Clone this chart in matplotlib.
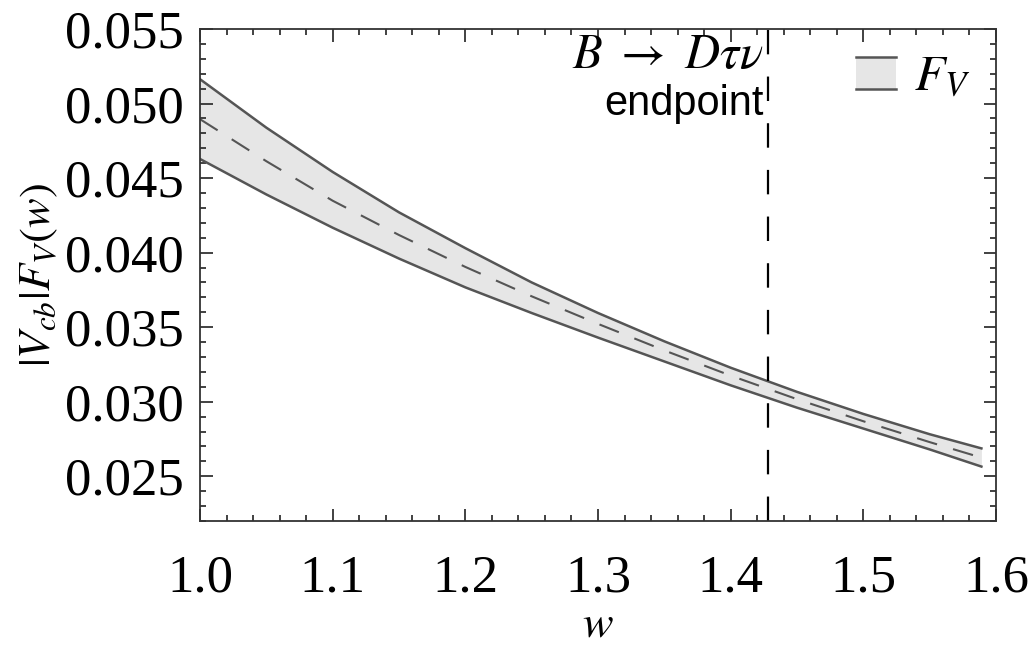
"""|V_cb| F_V(w) band with the B -> D tau nu endpoint marked."""

import matplotlib
matplotlib.use("Agg")
import matplotlib.pyplot as plt
from matplotlib.legend_handler import HandlerBase
from matplotlib.lines import Line2D
from matplotlib.patches import Rectangle
from matplotlib.ticker import MultipleLocator

plt.rcParams["font.family"] = ["Liberation Serif", "DejaVu Serif"]
plt.rcParams["mathtext.fontset"] = "stix"

# values
w = [1.00, 1.05, 1.10, 1.15, 1.20, 1.25, 1.30, 1.35, 1.40, 1.45, 1.50, 1.55, 1.589]
fv_upper = [0.05163, 0.04838, 0.04541, 0.04270, 0.04030, 0.03800, 0.03595,
            0.03405, 0.03228, 0.03066, 0.02918, 0.02782, 0.02687]
fv_central = [0.04895, 0.04613, 0.04348, 0.04118, 0.03904, 0.03707, 0.03522,
              0.03344, 0.03175, 0.03017, 0.02869, 0.02729, 0.02625]
fv_lower = [0.04628, 0.04390, 0.04167, 0.03960, 0.03767, 0.03595, 0.03430,
            0.03270, 0.03110, 0.02960, 0.02820, 0.02680, 0.02565]
w_endpoint = 1.428

EDGE = "#555555"
FILL = "#e6e6e6"


class BandHandler(HandlerBase):
    # filled box with lines on top and bottom, like the band itself
    def create_artists(self, legend, orig_handle, xdescent, ydescent,
                       width, height, fontsize, trans):
        x0, y0 = -xdescent, -ydescent
        rect = Rectangle((x0, y0), width, height, facecolor=FILL,
                         edgecolor="none", transform=trans)
        top = Line2D([x0, x0 + width], [y0 + height] * 2, color=EDGE,
                     lw=1.8, transform=trans)
        bot = Line2D([x0, x0 + width], [y0, y0], color=EDGE, lw=1.8,
                     transform=trans)
        return [rect, top, bot]


fig = plt.figure(figsize=(10.30, 6.51), dpi=100)
ax = fig.add_axes([0.1942, 0.1997, 0.7728, 0.7558])

band = ax.fill_between(w, fv_lower, fv_upper, color=FILL, lw=0, label="$F_V$")
ax.plot(w, fv_upper, color=EDGE, lw=1.8)
ax.plot(w, fv_lower, color=EDGE, lw=1.8)
ax.plot(w, fv_central, color=EDGE, lw=1.5, linestyle=(0, (10, 8)))
ax.axvline(w_endpoint, color="black", lw=1.6, linestyle=(0, (11, 10)))

ax.text(w_endpoint - 0.003, 0.0532, r"$B\ \rightarrow\ D\tau\nu$",
        fontsize=35, ha="right", va="center")
ax.text(w_endpoint - 0.003, 0.0500, "endpoint", fontsize=30,
        family=["Liberation Sans", "DejaVu Sans"], ha="right", va="center")

ax.legend(handles=[band], labels=["$F_V$"], handler_map={band: BandHandler()},
          loc="upper right", frameon=False, fontsize=36, handlelength=0.8,
          handleheight=0.62, handletextpad=0.35, borderaxespad=0.3,
          bbox_to_anchor=(1.012, 1.018))

ax.set_xlim(1.0, 1.6)
ax.set_ylim(0.022, 0.055)
ax.xaxis.set_major_locator(MultipleLocator(0.1))
ax.xaxis.set_minor_locator(MultipleLocator(0.02))
ax.yaxis.set_major_locator(MultipleLocator(0.005))
ax.yaxis.set_minor_locator(MultipleLocator(0.001))
ax.xaxis.set_major_formatter(plt.FuncFormatter(lambda v, p: f"{v:.1f}"))
ax.yaxis.set_major_formatter(plt.FuncFormatter(lambda v, p: f"{v:.3f}"))

ax.tick_params(which="both", direction="in", top=True, right=True,
               color="#333333", width=1.3)
ax.tick_params(which="major", length=9, labelsize=38, pad=12)
ax.tick_params(which="minor", length=4.5)
ax.tick_params(axis="x", which="major", pad=24)
for sp in ax.spines.values():
    sp.set_color("#333333")
    sp.set_linewidth(1.3)

ax.set_xlabel("$w$", fontsize=33, labelpad=1)
ax.set_ylabel(r"$|V_{cb}|F_V(w)$", fontsize=32, labelpad=3)

fig.savefig("out.png", dpi=100)
